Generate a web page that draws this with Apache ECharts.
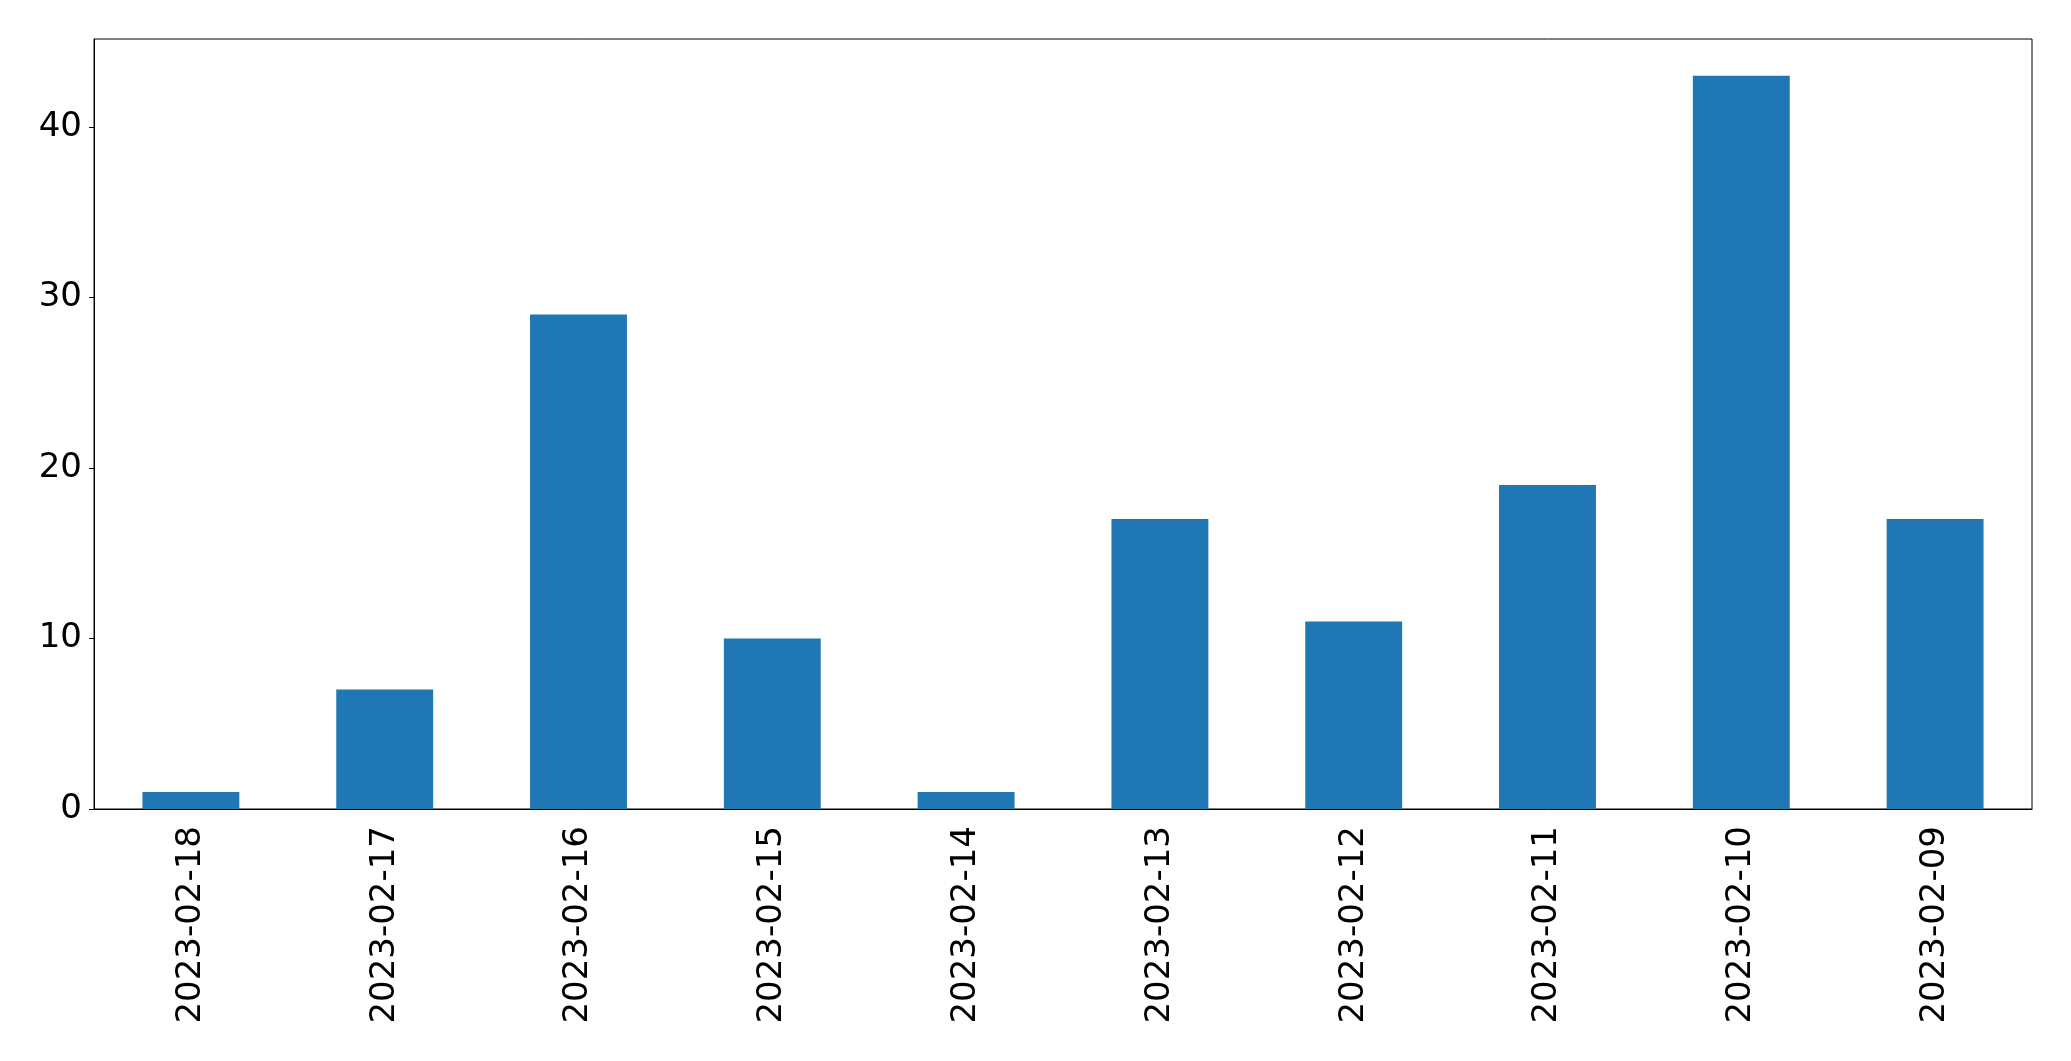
<!DOCTYPE html>
<html>
<head>
<meta charset="utf-8">
<script src="https://cdn.jsdelivr.net/npm/echarts@6/dist/echarts.min.js"></script>
<style>
html,body{margin:0;padding:0;background:#fff;}
#chart{width:2071px;height:1061px;}
</style>
</head>
<body>
<div id="chart"></div>
<script>
const categories = ['2023-02-18','2023-02-17','2023-02-16','2023-02-15','2023-02-14','2023-02-13','2023-02-12','2023-02-11','2023-02-10','2023-02-09'];
const values = [1, 7, 29, 10, 1, 17, 11, 19, 43, 17];
const yTicks = [0, 10, 20, 30, 40];

const chart = echarts.init(document.getElementById('chart'), null, {renderer: 'canvas'});
const font = 'DejaVu Sans';
chart.setOption({
  animation: false,
  backgroundColor: '#ffffff',
  grid: {left: 94, top: 39, right: 39, bottom: 252, show: true, borderColor: '#000', borderWidth: 1, backgroundColor: 'transparent'},
  xAxis: {
    type: 'category',
    data: categories,
    boundaryGap: true,
    axisLine: {lineStyle: {color: '#000', width: 1}},
    axisTick: {alignWithLabel: true, length: 5, lineStyle: {color: '#000', width: 1}},
    axisLabel: {rotate: 90, margin: 17, color: '#000', fontFamily: font, fontSize: 34, interval: 0}
  },
  yAxis: {
    type: 'value',
    min: 0,
    max: 45.15,
    interval: 10,
    splitLine: {show: false},
    axisLine: {show: true, lineStyle: {color: '#000', width: 1}},
    axisTick: {show: true, length: 5, lineStyle: {color: '#000', width: 1},
      customValues: yTicks},
    axisLabel: {color: '#000', fontFamily: font, fontSize: 34, margin: 12,
      customValues: yTicks}
  },
  series: [{
    type: 'bar',
    data: values,
    barWidth: '50%',
    itemStyle: {color: '#1f77b4'}
  }]
});
</script>
</body>
</html>
